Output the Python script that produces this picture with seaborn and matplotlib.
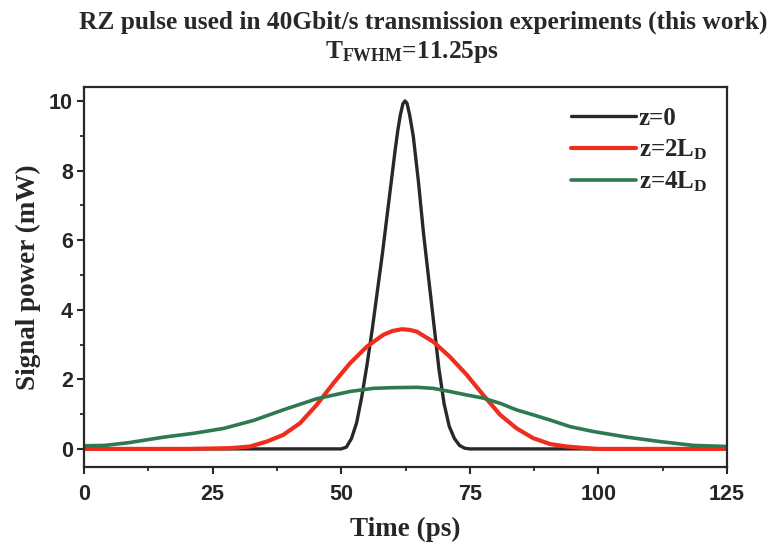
import matplotlib
matplotlib.use('Agg')
import matplotlib.pyplot as plt
import seaborn as sns
import pandas as pd
from matplotlib.ticker import MultipleLocator

# Values (time in ps, power in mW)
time_z0 = [20, 50, 51, 52, 53, 54, 55, 56, 57, 58, 59, 60, 60.5, 61, 61.5, 62.0, 62.4,
           62.8, 63.3, 64, 65, 66, 67, 68, 69, 70, 71, 72, 73, 74, 75, 105]
power_z0 = [0, 0, 0.05, 0.3, 0.75, 1.5, 2.4, 3.4, 4.5, 5.6, 6.8, 8.0, 8.6, 9.15, 9.6, 9.92,
            10.0, 9.93, 9.6, 9.0, 7.7, 6.2, 4.9, 3.6, 2.3, 1.3, 0.65, 0.3, 0.1, 0.02, 0, 0]

time_z2 = [0, 20, 28, 30, 32.3, 35.5, 38.7, 42, 45.2, 48.5, 51.7, 55, 58.2, 60, 61.8, 63.3,
           64.7, 67.9, 71.1, 74.4, 77.6, 80.9, 84.1, 87.3, 90.6, 93.8, 97, 100, 125]
power_z2 = [0, 0, 0.02, 0.04, 0.07, 0.21, 0.40, 0.74, 1.26, 1.89, 2.46, 2.94, 3.28, 3.39,
            3.44, 3.42, 3.37, 3.08, 2.65, 2.13, 1.55, 0.98, 0.59, 0.31, 0.14, 0.07, 0.03, 0, 0]

time_z4 = [0, 4, 8.75, 15.6, 21.4, 27.2, 33, 38.7, 45.2, 51.7, 56.2, 60, 64.7, 67.9, 71.1,
           74.4, 77.6, 80.9, 84.1, 87.3, 90.6, 94.5, 99, 105.5, 112, 118.5, 125]
power_z4 = [0.09, 0.10, 0.18, 0.34, 0.45, 0.59, 0.82, 1.12, 1.44, 1.65, 1.74, 1.76, 1.77,
            1.74, 1.65, 1.55, 1.46, 1.31, 1.12, 0.98, 0.83, 0.64, 0.50, 0.34, 0.21, 0.10, 0.07]

labels = ['z=0', r'z=2L$_{\mathrm{D}}$', r'z=4L$_{\mathrm{D}}$']
colors = ['#2b2628', '#ee2d1e', '#2e7a50']

x_ticks = [0, 25, 50, 75, 100, 125]
y_ticks = [0, 2, 4, 6, 8, 10]

sns.set_style('ticks')
plt.rcParams['font.family'] = ['Liberation Serif', 'DejaVu Serif']
plt.rcParams['font.weight'] = 'bold'
plt.rcParams['mathtext.fontset'] = 'custom'
plt.rcParams['mathtext.rm'] = 'Liberation Serif:bold'
plt.rcParams['mathtext.it'] = 'Liberation Serif:bold'
plt.rcParams['mathtext.bf'] = 'Liberation Serif:bold'

fig = plt.figure(figsize=(7.73, 5.45), dpi=100)
ax = fig.add_axes([84 / 773, 1 - 467 / 545, 643 / 773, 380 / 545])

series = [(time_z0, power_z0), (time_z2, power_z2), (time_z4, power_z4)]
widths = [2.4, 3.0, 2.6]
for (t, p), lab, c, lw in zip(series, labels, colors, widths):
    df = pd.DataFrame({'Time': t, 'Power': p})
    sns.lineplot(data=df, x='Time', y='Power', ax=ax, color=c, linewidth=lw, label=lab)

ax.set_xlim(0, 125)
ax.set_ylim(-0.52, 10.4)
ax.set_xticks(x_ticks)
ax.set_yticks(y_ticks)
ax.xaxis.set_minor_locator(MultipleLocator(12.5))
ax.yaxis.set_minor_locator(MultipleLocator(1))

tick_font = {'family': ['Liberation Sans', 'DejaVu Sans'], 'weight': 'bold', 'size': 15.5}
ax.set_xticklabels([str(v) for v in x_ticks], fontdict=tick_font)
ax.set_yticklabels([str(v) for v in y_ticks], fontdict=tick_font)
ax.tick_params(which='major', direction='out', length=5, width=1.5, color='#2b2628', pad=3)
ax.tick_params(axis='x', which='major', pad=7)
ax.tick_params(which='minor', direction='out', length=3, width=1.3, color='#2b2628')

for s in ax.spines.values():
    s.set_visible(True)
    s.set_linewidth(1.6)
    s.set_color('#2b2628')

ax.set_xlabel('Time (ps)', fontsize=19.5, fontweight='bold', labelpad=9)
ax.set_ylabel('Signal power (mW)', fontsize=19.5, fontweight='bold', labelpad=6)

fig.text(423 / 773, 1 - 22 / 545, 'RZ pulse used in 40Gbit/s transmission experiments (this work)',
         ha='center', va='center', fontsize=18.3, fontweight='bold', color='#2b2628')
fig.text(412 / 773, 1 - 52 / 545, r'T$_{\mathrm{FWHM}}$=11.25ps',
         ha='center', va='center', fontsize=18.3, fontweight='bold', color='#2b2628')

leg = ax.legend(loc='upper right', frameon=False, fontsize=18, handlelength=2.6,
                handletextpad=0.1, labelspacing=0.3, borderaxespad=0.4)

fig.savefig('out.png', dpi=100)
